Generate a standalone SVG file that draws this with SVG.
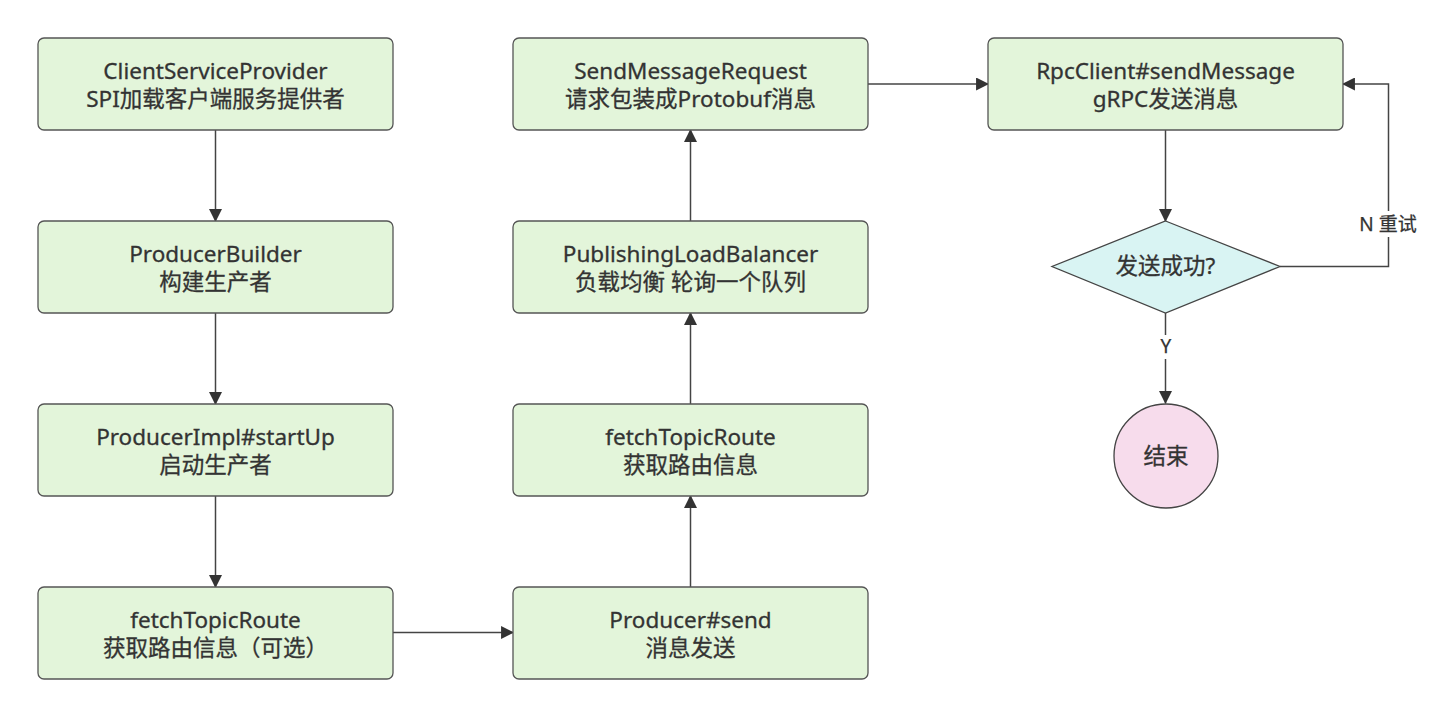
<svg xmlns="http://www.w3.org/2000/svg" width="1441" height="717" viewBox="0 0 1441 717">
<style>
.box{fill:#e3f5da;stroke:#555;stroke-width:1.3}
.dia{fill:#d9f4f3;stroke:#444;stroke-width:1.3}
.cir{fill:#f7dcec;stroke:#444;stroke-width:1.3}
.t{font-family:"Noto Sans","Noto Sans CJK SC",sans-serif;font-size:22.5px;fill:#333;stroke:#333;stroke-width:0.3;text-anchor:middle}
.lbl{font-family:"Noto Sans","Noto Sans CJK SC",sans-serif;font-size:19px;fill:#333;stroke:#333;stroke-width:0.25;text-anchor:middle}
.c{fill:none;stroke:#444;stroke-width:1.5}
</style>
<defs>
<marker id="a" viewBox="0 0 12 12" refX="11" refY="6" markerWidth="13" markerHeight="13" markerUnits="userSpaceOnUse" orient="auto">
<path d="M0,0 L12,6 L0,12 Z" fill="#333"/>
</marker>
</defs>
<rect width="1441" height="717" fill="#fff"/>
<g id="connectors">
<line class="c" x1="215.5" y1="130" x2="215.5" y2="221" marker-end="url(#a)"/>
<line class="c" x1="215.5" y1="313" x2="215.5" y2="404" marker-end="url(#a)"/>
<line class="c" x1="215.5" y1="496" x2="215.5" y2="587" marker-end="url(#a)"/>
<line class="c" x1="393" y1="632.5" x2="513" y2="632.5" marker-end="url(#a)"/>
<line class="c" x1="690.5" y1="587" x2="690.5" y2="496" marker-end="url(#a)"/>
<line class="c" x1="690.5" y1="404" x2="690.5" y2="313" marker-end="url(#a)"/>
<line class="c" x1="690.5" y1="221" x2="690.5" y2="130" marker-end="url(#a)"/>
<line class="c" x1="868" y1="84" x2="988" y2="84" marker-end="url(#a)"/>
<line class="c" x1="1165.5" y1="130" x2="1165.5" y2="221" marker-end="url(#a)"/>
<polyline class="c" points="1280,266.5 1388.5,266.5 1388.5,84 1343,84" marker-end="url(#a)"/>
<rect x="1352" y="211" width="74" height="26" fill="#fff"/>
<text class="lbl" x="1388" y="231">N 重试</text>
<line class="c" x1="1165.5" y1="313" x2="1165.5" y2="403" marker-end="url(#a)"/>
<rect x="1155" y="335" width="22" height="24" fill="#fff"/>
<text class="lbl" x="1166" y="353">Y</text>
</g>
<g id="n1"><rect class="box" x="38" y="38" width="355" height="92" rx="6"/><text class="t" x="215.5" y="79">ClientServiceProvider</text><text class="t" x="215.5" y="107">SPI加载客户端服务提供者</text></g>
<g id="n2"><rect class="box" x="38" y="221" width="355" height="92" rx="6"/><text class="t" x="215.5" y="262">ProducerBuilder</text><text class="t" x="215.5" y="290">构建生产者</text></g>
<g id="n3"><rect class="box" x="38" y="404" width="355" height="92" rx="6"/><text class="t" x="215.5" y="445">ProducerImpl#startUp</text><text class="t" x="215.5" y="473">启动生产者</text></g>
<g id="n4"><rect class="box" x="38" y="587" width="355" height="92" rx="6"/><text class="t" x="215.5" y="628">fetchTopicRoute</text><text class="t" x="215.5" y="656">获取路由信息（可选）</text></g>
<g id="n5"><rect class="box" x="513" y="587" width="355" height="92" rx="6"/><text class="t" x="690.5" y="628">Producer#send</text><text class="t" x="690.5" y="656">消息发送</text></g>
<g id="n6"><rect class="box" x="513" y="404" width="355" height="92" rx="6"/><text class="t" x="690.5" y="445">fetchTopicRoute</text><text class="t" x="690.5" y="473">获取路由信息</text></g>
<g id="n7"><rect class="box" x="513" y="221" width="355" height="92" rx="6"/><text class="t" x="690.5" y="262">PublishingLoadBalancer</text><text class="t" x="690.5" y="290">负载均衡 轮询一个队列</text></g>
<g id="n8"><rect class="box" x="513" y="38" width="355" height="92" rx="6"/><text class="t" x="690.5" y="79">SendMessageRequest</text><text class="t" x="690.5" y="107">请求包装成Protobuf消息</text></g>
<g id="n9"><rect class="box" x="988" y="38" width="355" height="92" rx="6"/><text class="t" x="1165.5" y="79">RpcClient#sendMessage</text><text class="t" x="1165.5" y="107">gRPC发送消息</text></g>
<g id="n10"><polygon class="dia" points="1165.5,221 1280,266.5 1165.5,313 1052,266.5"/><text class="t" x="1165.5" y="274">发送成功?</text></g>
<g id="n11"><circle class="cir" cx="1166" cy="456" r="52"/><text class="t" x="1166" y="464">结束</text></g>
</svg>
